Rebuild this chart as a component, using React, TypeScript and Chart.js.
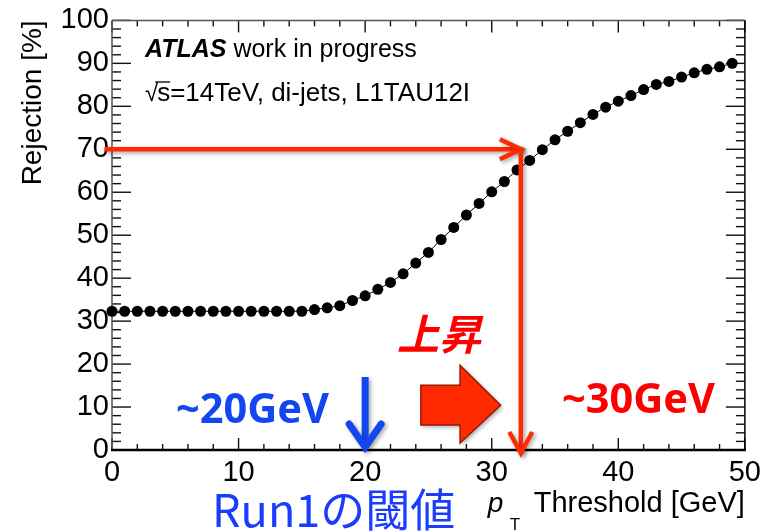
import React, { useEffect, useRef } from "react";
import { Chart, registerables } from "chart.js";

Chart.register(...registerables);

// ---- data ----
const thresholds = [
  0, 1, 2, 3, 4, 5, 6, 7, 8, 9, 10, 11, 12, 13, 14, 15, 16, 17, 18, 19, 20, 21, 22, 23, 24,
  25, 26, 27, 28, 29, 30, 31, 32, 33, 34, 35, 36, 37, 38, 39, 40, 41, 42, 43, 44, 45, 46, 47, 48, 49,
];
const rejection = [
  32.3, 32.3, 32.3, 32.3, 32.3, 32.3, 32.3, 32.3, 32.3, 32.3, 32.3, 32.3, 32.3, 32.3, 32.3, 32.3,
  32.7, 33.1, 33.6, 34.8, 35.9, 37.4, 39.0, 41.0, 43.5, 46.0, 49.0, 51.8, 54.7, 57.4, 60.1, 62.5,
  65.2, 67.4, 69.9, 72.2, 74.2, 76.2, 78.1, 79.8, 81.2, 82.5, 83.9, 85.1, 85.8, 86.8, 87.8, 88.6,
  89.2, 90.0,
];
const xRange = [0, 50];
const yRange = [0, 100];
const xTickStep = 10;
const yTickStep = 10;

const yTitle = "Rejection [%]";
const xTitleVar = "p";
const xTitleSub = "T";
const xTitleMain = "Threshold [GeV]";
const atlasLabel = "ATLAS";
const atlasSuffix = " work in progress";
const infoRoot = "\u221A";
const infoS = "s";
const infoRest = "=14TeV, di-jets, L1TAU12I";
const oldLabel = "~20GeV";
const newLabel = "~30GeV";
const riseLabel = "上昇";
const run1Label = "Run1の閾値";

const oldThreshold = 20;
const newThreshold = 32.3;
const targetRejection = 70;
const arrowStartX = -0.6;

// block arrow (data coords)
const blockTailX = 24.4;
const blockNeckX = 27.5;
const blockTipX = 30.7;
const blockBodyTop = 15.1;
const blockBodyBottom = 5.8;
const blockHeadTop = 19.7;
const blockHeadBottom = 1.6;
const blockMid = 10.4;

const SANS = "'Liberation Sans', Arial, Helvetica, sans-serif";
const RED = "#ff2a00";
const BLUE = "#1446f0";

const framePlugin = {
  id: "frame",
  beforeDatasetsDraw(chart: any) {
    const { ctx, chartArea, scales } = chart;
    const { left, right, top, bottom } = chartArea;
    const x = scales.x;
    const y = scales.y;
    ctx.save();
    ctx.strokeStyle = "#111";
    ctx.lineWidth = 1.4;
    const line = (a: number, b: number, c: number, d: number) => {
      ctx.beginPath();
      ctx.moveTo(a, b);
      ctx.lineTo(c, d);
      ctx.stroke();
    };
    for (let v = xRange[0]; v <= xRange[1]; v += 2) {
      const px = x.getPixelForValue(v);
      const len = v % 10 === 0 ? 12 : 6;
      line(px, bottom, px, bottom - len);
      line(px, top, px, top + len);
    }
    for (let v = yRange[0]; v <= yRange[1]; v += 2) {
      const py = y.getPixelForValue(v);
      const len = v % 10 === 0 ? 19 : 9;
      line(left, py, left + len, py);
      line(right, py, right - len, py);
    }
    ctx.strokeStyle = "#555";
    ctx.lineWidth = 1.5;
    line(left, top, right, top);
    line(left, top, left, bottom);
    ctx.strokeStyle = "#000";
    line(right, top, right, bottom);
    ctx.lineWidth = 2.5;
    line(left - 1, bottom, right + 1, bottom);
    ctx.restore();
  },
};

const annotationPlugin = {
  id: "annotations",
  afterDatasetsDraw(chart: any) {
    const { ctx, scales } = chart;
    const x = scales.x;
    const y = scales.y;
    ctx.save();

    ctx.shadowColor = "rgba(0,0,0,0.35)";
    ctx.shadowBlur = 4;
    ctx.shadowOffsetX = 2;
    ctx.shadowOffsetY = 2;

    // red L arrow
    const hx0 = x.getPixelForValue(arrowStartX);
    const hx1 = x.getPixelForValue(newThreshold);
    const hy = y.getPixelForValue(targetRejection);
    const vy1 = y.getPixelForValue(0) + 3;
    ctx.strokeStyle = RED;
    ctx.lineWidth = 4.5;
    ctx.lineCap = "butt";
    ctx.lineJoin = "miter";
    ctx.beginPath();
    ctx.moveTo(hx0, hy);
    ctx.lineTo(hx1 + 2, hy);
    ctx.stroke();
    ctx.beginPath();
    ctx.moveTo(hx1 - 21, hy - 10);
    ctx.lineTo(hx1, hy);
    ctx.lineTo(hx1 - 21, hy + 10);
    ctx.stroke();
    ctx.beginPath();
    ctx.moveTo(hx1, hy - 2);
    ctx.lineTo(hx1, vy1);
    ctx.stroke();
    ctx.beginPath();
    ctx.moveTo(hx1 - 11.5, vy1 - 21);
    ctx.lineTo(hx1, vy1);
    ctx.lineTo(hx1 + 11.5, vy1 - 21);
    ctx.stroke();

    // blue down arrow at old threshold
    const bx = x.getPixelForValue(oldThreshold);
    const by1 = y.getPixelForValue(0) - 3;
    const by0 = by1 - 70;
    ctx.strokeStyle = BLUE;
    ctx.lineWidth = 7;
    ctx.beginPath();
    ctx.moveTo(bx, by0);
    ctx.lineTo(bx, by1 - 3);
    ctx.stroke();
    ctx.lineCap = "round";
    ctx.beginPath();
    ctx.moveTo(bx - 16, by1 - 23);
    ctx.lineTo(bx, by1);
    ctx.lineTo(bx + 16, by1 - 23);
    ctx.stroke();

    // block arrow
    ctx.lineCap = "butt";
    ctx.fillStyle = RED;
    ctx.strokeStyle = "#9a1a00";
    ctx.lineWidth = 1.5;
    ctx.beginPath();
    ctx.moveTo(x.getPixelForValue(blockTailX), y.getPixelForValue(blockBodyTop));
    ctx.lineTo(x.getPixelForValue(blockNeckX), y.getPixelForValue(blockBodyTop));
    ctx.lineTo(x.getPixelForValue(blockNeckX), y.getPixelForValue(blockHeadTop));
    ctx.lineTo(x.getPixelForValue(blockTipX), y.getPixelForValue(blockMid));
    ctx.lineTo(x.getPixelForValue(blockNeckX), y.getPixelForValue(blockHeadBottom));
    ctx.lineTo(x.getPixelForValue(blockNeckX), y.getPixelForValue(blockBodyBottom));
    ctx.lineTo(x.getPixelForValue(blockTailX), y.getPixelForValue(blockBodyBottom));
    ctx.closePath();
    ctx.fill();
    ctx.shadowColor = "transparent";
    ctx.stroke();
    ctx.restore();
  },
  afterDraw(chart: any) {
    const { ctx, chartArea } = chart;
    const { left, right } = chartArea;
    ctx.save();
    ctx.textBaseline = "alphabetic";
    ctx.fillStyle = "#000";

    // ATLAS label
    const lx = left + 33;
    ctx.font = `italic bold 25px ${SANS}`;
    ctx.textAlign = "left";
    ctx.fillText(atlasLabel, lx, 57);
    const aw = ctx.measureText(atlasLabel).width;
    ctx.font = `25px ${SANS}`;
    ctx.fillText(atlasSuffix, lx + aw, 57);

    // sqrt s line
    ctx.font = `24px ${SANS}`;
    ctx.fillText(infoRoot, lx, 101);
    const rw = ctx.measureText(infoRoot).width;
    ctx.font = `26px ${SANS}`;
    ctx.fillText(infoS, lx + rw - 1, 101);
    const sw = ctx.measureText(infoS).width;
    ctx.fillText(infoRest, lx + rw - 1 + sw, 101);
    ctx.lineWidth = 1.3;
    ctx.strokeStyle = "#000";
    ctx.beginPath();
    ctx.moveTo(lx + rw - 3, 82);
    ctx.lineTo(lx + rw - 1 + sw, 82);
    ctx.stroke();

    // x title
    ctx.font = `29px ${SANS}`;
    ctx.textAlign = "right";
    ctx.fillText(xTitleMain, right, 512);
    const mw = ctx.measureText(xTitleMain).width;
    ctx.textAlign = "left";
    ctx.font = `italic 28px ${SANS}`;
    ctx.fillText(xTitleVar, right - mw - 46, 512);
    ctx.font = `17px ${SANS}`;
    ctx.fillText(xTitleSub, right - mw - 24, 530);

    // annotation texts
    ctx.font = `bold 41.5px 'Noto Sans', 'Open Sans', sans-serif`;
    ctx.fillStyle = BLUE;
    ctx.fillText(oldLabel, 176, 423);
    ctx.fillStyle = "#ff0000";
    ctx.fillText(newLabel, 562, 413);

    ctx.font = `italic bold 42px 'Noto Sans CJK JP', sans-serif`;
    ctx.fillStyle = "#ff0000";
    ctx.fillText(riseLabel, 397, 350);

    ctx.font = `45px 'Noto Sans CJK JP', sans-serif`;
    ctx.fillStyle = "#1a3cff";
    ctx.fillText(run1Label, 212, 527);
    ctx.restore();
  },
};

export default function App() {
  const canvasRef = useRef<HTMLCanvasElement | null>(null);

  useEffect(() => {
    const canvas = canvasRef.current;
    if (!canvas) return;
    const chart = new Chart(canvas, {
      type: "line",
      data: {
        datasets: [
          {
            data: thresholds.map((t, i) => ({ x: t, y: rejection[i] })),
            borderColor: "#000",
            borderWidth: 1,
            pointRadius: 5.5,
            pointBackgroundColor: "#000",
            pointBorderColor: "#000",
            pointBorderWidth: 0,
            tension: 0,
            clip: false as any,
          },
        ],
      },
      options: {
        animation: false,
        responsive: false,
        devicePixelRatio: 1,
        layout: { padding: { top: 19, right: 19, left: 0, bottom: 0 } },
        plugins: { legend: { display: false }, tooltip: { enabled: false } },
        scales: {
          x: {
            type: "linear",
            min: xRange[0],
            max: xRange[1],
            ticks: {
              stepSize: xTickStep,
              color: "#000",
              font: { family: SANS, size: 29 },
              padding: 6,
              maxRotation: 0,
            },
            grid: { display: false, drawTicks: false },
            border: { display: false },
            afterFit: (s: any) => {
              s.height = 82;
            },
          },
          y: {
            type: "linear",
            min: yRange[0],
            max: yRange[1],
            ticks: {
              stepSize: yTickStep,
              color: "#000",
              font: { family: SANS, size: 29 },
              padding: 3,
            },
            grid: { display: false, drawTicks: false },
            border: { display: false },
            title: {
              display: true,
              text: yTitle,
              align: "end",
              color: "#000",
              font: { family: SANS, size: 28 },
              padding: { top: 16, bottom: 0 },
            },
            afterFit: (s: any) => {
              s.width = 112;
            },
          },
        },
      },
      plugins: [framePlugin, annotationPlugin],
    });
    return () => chart.destroy();
  }, []);

  return (
    <div style={{ position: "absolute", left: 0, top: 0, width: 767, height: 532, background: "#fff" }}>
      <canvas ref={canvasRef} width={767} height={532} style={{ display: "block" }} />
    </div>
  );
}
